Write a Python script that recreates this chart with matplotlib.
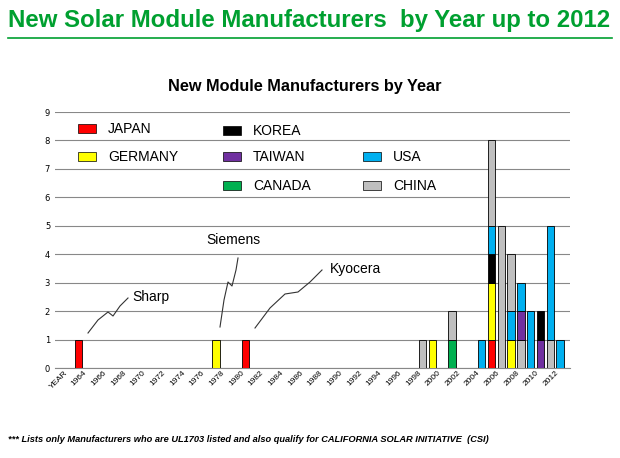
import matplotlib.pyplot as plt
from matplotlib.patches import Rectangle
from matplotlib.lines import Line2D

colors = {
    "JAPAN": "#ff0000", "KOREA": "#000000", "GERMANY": "#ffff00",
    "TAIWAN": "#7030a0", "USA": "#00b0f0", "CANADA": "#00b050", "CHINA": "#bfbfbf",
}

# year -> stacked segments bottom to top
years = [1963, 1977, 1980, 1998, 1999, 2001, 2004, 2005, 2006, 2007, 2008, 2009, 2010, 2011, 2012]
stacks = [
    [("JAPAN", 1)],
    [("GERMANY", 1)],
    [("JAPAN", 1)],
    [("CHINA", 1)],
    [("GERMANY", 1)],
    [("CANADA", 1), ("CHINA", 1)],
    [("USA", 1)],
    [("JAPAN", 1), ("GERMANY", 2), ("KOREA", 1), ("USA", 1), ("CHINA", 3)],
    [("CHINA", 5)],
    [("GERMANY", 1), ("USA", 1), ("CHINA", 2)],
    [("CHINA", 1), ("TAIWAN", 1), ("USA", 1)],
    [("USA", 2)],
    [("TAIWAN", 1), ("KOREA", 1)],
    [("CHINA", 1), ("USA", 4)],
    [("USA", 1)],
]
tick_years = list(range(1962, 2013, 2))
tick_labels = ["YEAR"] + [str(y) for y in tick_years[1:]]

W, H = 620, 458
fig = plt.figure(figsize=(W / 100, H / 100), dpi=100)


def fx(px):
    return px / W


def fy(py):
    return 1 - py / H


fig.text(fx(8), fy(20), "New Solar Module Manufacturers  by Year up to 2012",
         color="#00a030", fontsize=17.3, fontweight="bold", va="center", family="Liberation Sans")
fig.add_artist(Line2D([fx(8), fx(612)], [fy(38), fy(38)], color="#00a030", lw=1.2))
fig.text(fx(305), fy(87), "New Module Manufacturers by Year", fontsize=11.7, fontweight="bold",
         ha="center", va="center", family="Liberation Sans")

ax = fig.add_axes([fx(55), fy(368), fx(570) - fx(55), fy(112) - fy(368)])
for yr, segs in zip(years, stacks):
    bottom = 0
    for country, n in segs:
        ax.bar(yr, n, bottom=bottom, width=0.75, color=colors[country],
               edgecolor="black", linewidth=0.6, zorder=3)
        bottom += n
ax.set_xlim(1960.6, 2013.0)
ax.set_ylim(0, 9)
ax.set_yticks(range(10))
ax.yaxis.grid(True, color="#888888", lw=0.8, zorder=0)
ax.set_xticks(tick_years)
ax.set_xticklabels(tick_labels, rotation=45, ha="right", fontsize=6, family="Liberation Sans")
ax.tick_params(axis="y", labelsize=6, length=0)
ax.tick_params(axis="x", length=0, pad=1)
for s in ["top", "right", "left"]:
    ax.spines[s].set_visible(False)
ax.spines["bottom"].set_color("#888888")

legend_items = [("JAPAN", 80, 129), ("KOREA", 225, 131), ("GERMANY", 80, 157),
                ("TAIWAN", 225, 157), ("USA", 365, 157), ("CANADA", 225, 186), ("CHINA", 365, 186)]
for name, px, py in legend_items:
    fig.add_artist(Rectangle((fx(px - 2), fy(py + 4)), fx(18), fy(0) - fy(9),
                             facecolor=colors[name], edgecolor="black", lw=0.5))
    fig.text(fx(px + 28), fy(py), name, fontsize=10, va="center", family="Liberation Sans")

notes = [
    ("Sharp", [(88, 333), (98, 320), (108, 312), (113, 316), (120, 306), (128, 298)], (132, 297)),
    ("Siemens", [(220, 327), (224, 300), (228, 282), (232, 286), (236, 270), (238, 258)], (206, 240)),
    ("Kyocera", [(255, 328), (270, 308), (285, 294), (298, 292), (310, 282), (322, 270)], (330, 269)),
]
for label, pts, tpos in notes:
    xs = [fx(p[0]) for p in pts]
    ys = [fy(p[1]) for p in pts]
    fig.add_artist(Line2D(xs, ys, color="#333333", lw=0.8))
    fig.text(fx(tpos[0]), fy(tpos[1]), label, fontsize=10, va="center", family="Liberation Sans")

fig.text(fx(8), fy(440), "*** Lists only Manufacturers who are UL1703 listed and also qualify for CALIFORNIA SOLAR INITIATIVE  (CSI)",
         fontsize=6.7, fontweight="bold", style="italic", va="center", family="Liberation Sans")

fig.savefig("out.png", dpi=100)
